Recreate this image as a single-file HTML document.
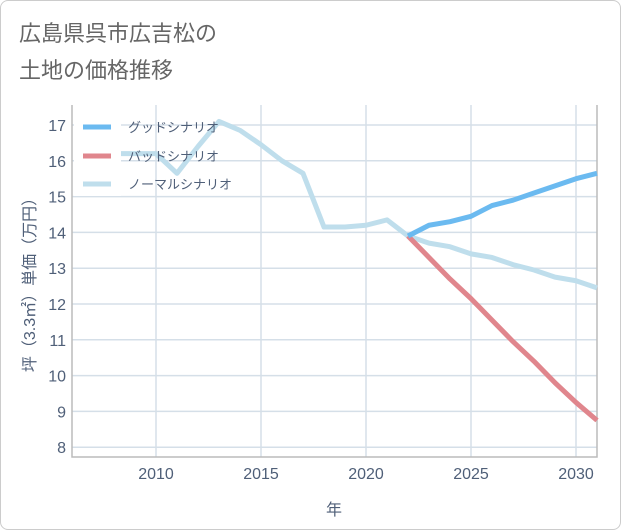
<!DOCTYPE html>
<html><head><meta charset="utf-8"><style>
body{margin:0;background:#fff;font-family:"Liberation Sans","Noto Sans CJK JP",sans-serif;}
#wrap{position:relative;width:619px;height:528px;border:1px solid #ccc;border-radius:8px;overflow:hidden;background:#fff}
</style></head><body>
<div id="wrap">
<svg id="c" width="619" height="528">
<text x="18" y="40" font-size="22" fill="#666">広島県呉市広吉松の</text>
<text x="18" y="77" font-size="22" fill="#666">土地の価格推移</text>
</svg>
</div>
<script>
const years=[2008,2009,2010,2011,2012,2013,2014,2015,2016,2017,2018,2019,2020,2021,2022,2023,2024,2025,2026,2027,2028,2029,2030,2031];
const normalVals=[16.2,16.2,16.2,15.65,16.4,17.1,16.85,16.45,16.0,15.65,14.15,14.15,14.2,14.35,13.9,13.7,13.6,13.4,13.3,13.1,12.95,12.75,12.65,12.45];
const futureYears=[2022,2023,2024,2025,2026,2027,2028,2029,2030,2031];
const goodVals=[13.9,14.2,14.3,14.45,14.75,14.9,15.1,15.3,15.5,15.65];
const badVals=[13.9,13.3,12.7,12.15,11.55,10.95,10.4,9.8,9.25,8.75];
const yTicks=[8,9,10,11,12,13,14,15,16,17];
const xTicks=[2010,2015,2020,2025,2030];
const L=71,R=596,T=104,B=456;
const TXT='#4f5f78';
const xs=y=>L+(y-2006)*(R-L)/25;
const ys=v=>124+(17-v)*35.8;
const svg=document.getElementById('c');const NS='http://www.w3.org/2000/svg';
function mk(t,a){const e=document.createElementNS(NS,t);for(const k in a)e.setAttribute(k,a[k]);svg.appendChild(e);return e;}
for(const v of yTicks){const g=mk('line',{x1:L,x2:R,y1:ys(v),y2:ys(v),stroke:'#d5dfe8','stroke-width':1.5});


const t=mk('text',{x:L-6,y:ys(v)+6,'text-anchor':'end','font-size':16,fill:TXT});t.textContent=v;

}
for(const v of xTicks){const g=mk('line',{x1:xs(v),x2:xs(v),y1:T,y2:B,stroke:'#d5dfe8','stroke-width':1.5});


const t=mk('text',{x:xs(v),y:B+22,'text-anchor':'middle','font-size':16,fill:TXT});t.textContent=v;

}
const ax=mk('path',{d:`M${L} ${T}V${B}H${R}V${T}`,fill:'none',stroke:'#bbb','stroke-width':1.5});


function line(xv,yv,col,name){const p=mk('polyline',{points:xv.map((x,i)=>xs(x)+','+ys(yv[i])).join(' '),fill:'none',stroke:col,'stroke-width':5,'stroke-linejoin':'round'});

}
line(years,normalVals,'#bfdeec','normal-scenario-line');
line(futureYears,badVals,'#e0868d','bad-scenario-line');
line(futureYears,goodVals,'#6bbaf0','good-scenario-line');
const bg=mk('rect',{x:73,y:110,width:47,height:85,fill:'#fff'});


const lg=[['グッドシナリオ','#6bbaf0',126],['バッドシナリオ','#e0868d',155],['ノーマルシナリオ','#bfdeec',183]];
for(const [n,c,y] of lg){const l=mk('line',{x1:82,x2:110,y1:y,y2:y,stroke:c,'stroke-width':5});


const t=mk('text',{x:127,y:y+5,'font-size':13,fill:TXT});t.textContent=n;

}
const xt=mk('text',{x:333,y:514,'text-anchor':'middle','font-size':16,fill:TXT});xt.textContent='年';


const yt=mk('text',{x:0,y:0,'text-anchor':'middle','font-size':16,fill:TXT,transform:'translate(34,280) rotate(-90)'});yt.textContent='坪（3.3㎡）単価（万円）';


</script>
</body></html>
